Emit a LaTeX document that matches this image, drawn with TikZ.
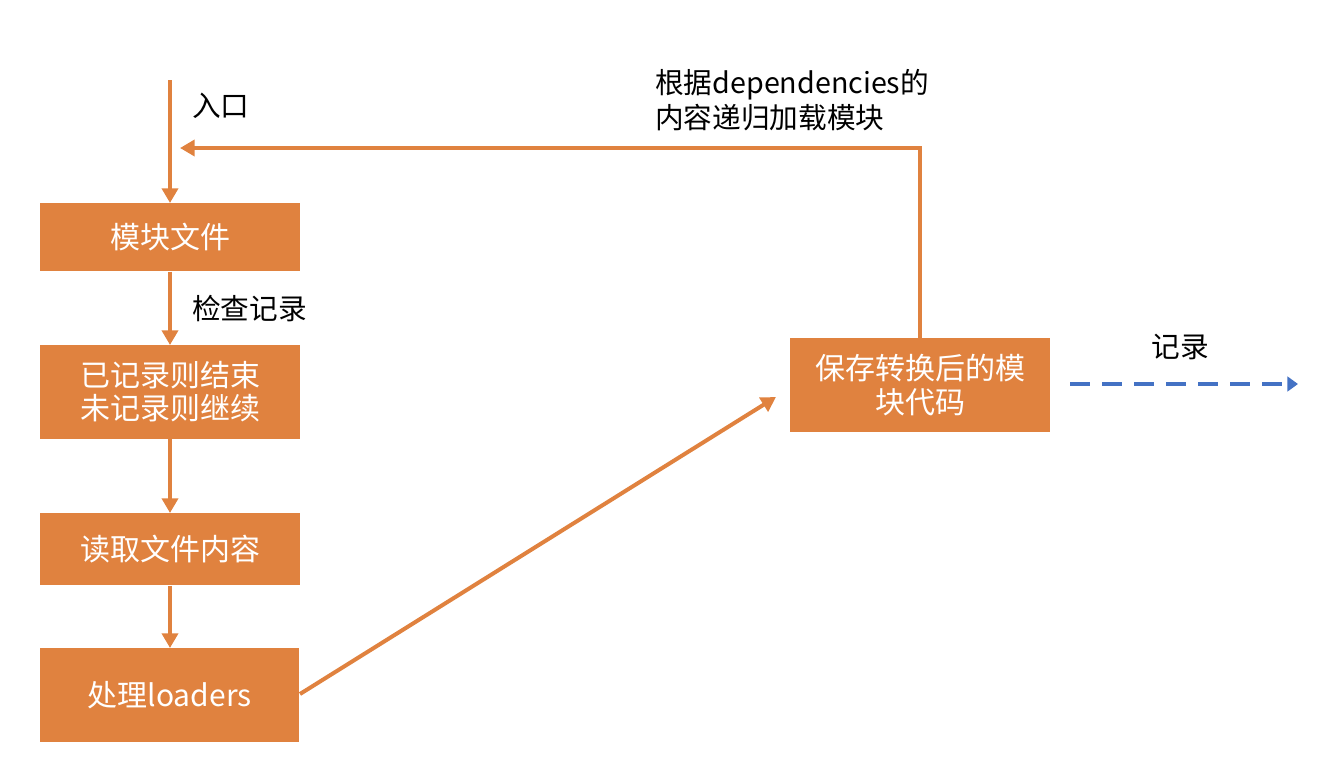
\documentclass[tikz,border=0pt]{standalone}
\usepackage{fontspec}
\setmainfont{Noto Sans CJK SC}
\usetikzlibrary{arrows.meta}
\definecolor{org}{HTML}{E0823F}
\definecolor{blu}{HTML}{4472C4}
\begin{document}
\begin{tikzpicture}[x=0.75pt,y=-0.75pt,
  box/.style={fill=org,draw=none,text=white,font=\fontsize{22.5}{25}\selectfont,align=center,inner sep=0pt,anchor=north west},
  lbl/.style={text=black,font=\fontsize{21.5}{26}\selectfont,align=left,inner sep=0pt},
  conn/.style={draw=org,line width=3pt,-{Triangle[width=12pt,length=11pt]}},
  dconn/.style={draw=blu,line width=3pt,dash pattern=on 15pt off 9pt,-{Triangle[width=11pt,length=8pt]}}]
\useasboundingbox (0,0) rectangle (1332,771);
\node[box,minimum width=195pt,minimum height=51pt] (b1) at (40,203) {模块文件};
\node[box,minimum width=195pt,minimum height=70pt] (b2) at (40,345) {已记录则结束\\未记录则继续};
\node[box,minimum width=195pt,minimum height=54pt] (b3) at (40,513) {读取文件内容};
\node[box,minimum width=194pt,minimum height=70pt] (b4) at (40,648) {处理loaders};
\node[box,minimum width=195pt,minimum height=70pt] (b5) at (790,338) {保存转换后的模\\块代码};
\coordinate (start) at (170,80);
\coordinate (b4r) at (300,694);
\coordinate (tip) at (776,397);
\coordinate (corner1) at (920,148);
\coordinate (loopend) at (180,148);
\coordinate (b5top) at (920,338);
\coordinate (ds) at (1070,384);
\coordinate (de) at (1298,384);
\draw[conn] (start) -- (b1.north -| start);
\draw[conn] (b1.south -| start) -- (b2.north -| start);
\draw[conn] (b2.south -| start) -- (b3.north -| start);
\draw[conn] (b3.south -| start) -- (b4.north -| start);
\draw[conn] (b4r) -- (tip);
\draw[conn] (b5top) -- (corner1) -- (loopend);
\draw[dconn] (ds) -- (de);
\node[lbl,anchor=west] (l1) at (192,106) {入口};
\node[lbl,anchor=west] (l2) at (192,309) {检查记录};
\node[lbl,anchor=west] (l3) at (655,100) {根据dependencies的\\内容递归加载模块};
\node[lbl] (l4) at (1180,347) {记录};
\end{tikzpicture}
\end{document}
